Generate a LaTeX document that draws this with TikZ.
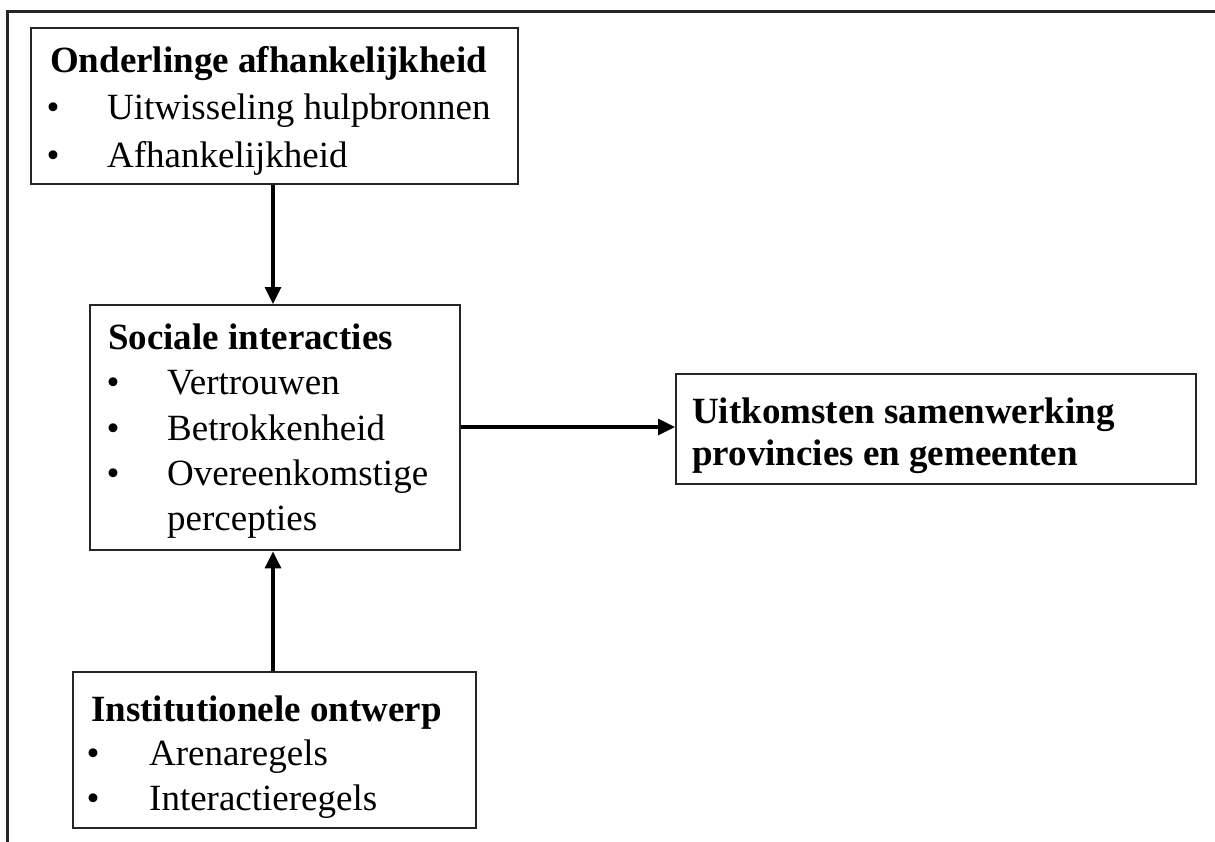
\documentclass[tikz,border=0pt]{standalone}
\usepackage{fontspec}
\setmainfont{Liberation Serif}
\usetikzlibrary{arrows.meta,calc}
\begin{document}
\begin{tikzpicture}[x=1pt,y=-1pt,
  box/.style={draw=black!85,line width=2.4pt,inner sep=0pt,anchor=north west},
  txt/.style={anchor=base west,inner sep=0pt,font=\fontsize{37}{44.5}\selectfont},
  head/.style={txt,font=\fontsize{37}{44.5}\selectfont\bfseries},
  arr/.style={line width=3.2pt,-{Triangle[length=17pt,width=16pt]}},
  frame/.style={line width=3pt,black!85}]
\useasboundingbox (0,0) rectangle (1215,841);
\draw[frame] (1216,11) -- (7,11) -- (7,842);
% boxes
\node[box,minimum width=487pt,minimum height=156pt] (b1) at (30,27) {};
\node[box,minimum width=370pt,minimum height=245pt] (b2) at (89,304) {};
\node[box,minimum width=403pt,minimum height=156pt] (b3) at (72,671) {};
\node[box,minimum width=520pt,minimum height=110pt] (b4) at (675,373) {};
% box 1 text
\node[head] (b1h) at (50,72) {Onderlinge afhankelijkheid};
\node[txt] (b1b1) at (46.5,119.5) {•};
\node[txt] (b1i1) at (107,119.5) {Uitwisseling hulpbronnen};
\node[txt] (b1b2) at (46.5,167) {•};
\node[txt] (b1i2) at (107,167) {Afhankelijkheid};
% box 2 text
\node[head] (b2h) at (108,349) {Sociale interacties};
\node[txt] (b2b1) at (106.5,394) {•};
\node[txt] (b2i1) at (167,394) {Vertrouwen};
\node[txt] (b2b2) at (106.5,440) {•};
\node[txt] (b2i2) at (167,440) {Betrokkenheid};
\node[txt] (b2b3) at (106.5,485) {•};
\node[txt] (b2i3) at (167,485) {Overeenkomstige};
\node[txt] (b2i4) at (167,530) {percepties};
% box 3 text
\node[head] (b3h) at (91,721) {Institutionele ontwerp};
\node[txt] (b3b1) at (86.5,765.5) {•};
\node[txt] (b3i1) at (149,765.5) {Arenaregels};
\node[txt] (b3b2) at (86.5,810) {•};
\node[txt] (b3i2) at (149,810) {Interactieregels};
% box 4 text
\node[head] (b4h1) at (692,423) {Uitkomsten samenwerking};
\node[head] (b4h2) at (692,465) {provincies en gemeenten};
% arrows
\draw[arr] (b1.south -| 273,0) -- (b2.north -| 273,0);
\draw[arr] (b3.north -| 273,0) -- (b2.south -| 273,0);
\draw[arr] (b2.east |- 0,427) -- (b4.west |- 0,427);
\end{tikzpicture}
\end{document}
